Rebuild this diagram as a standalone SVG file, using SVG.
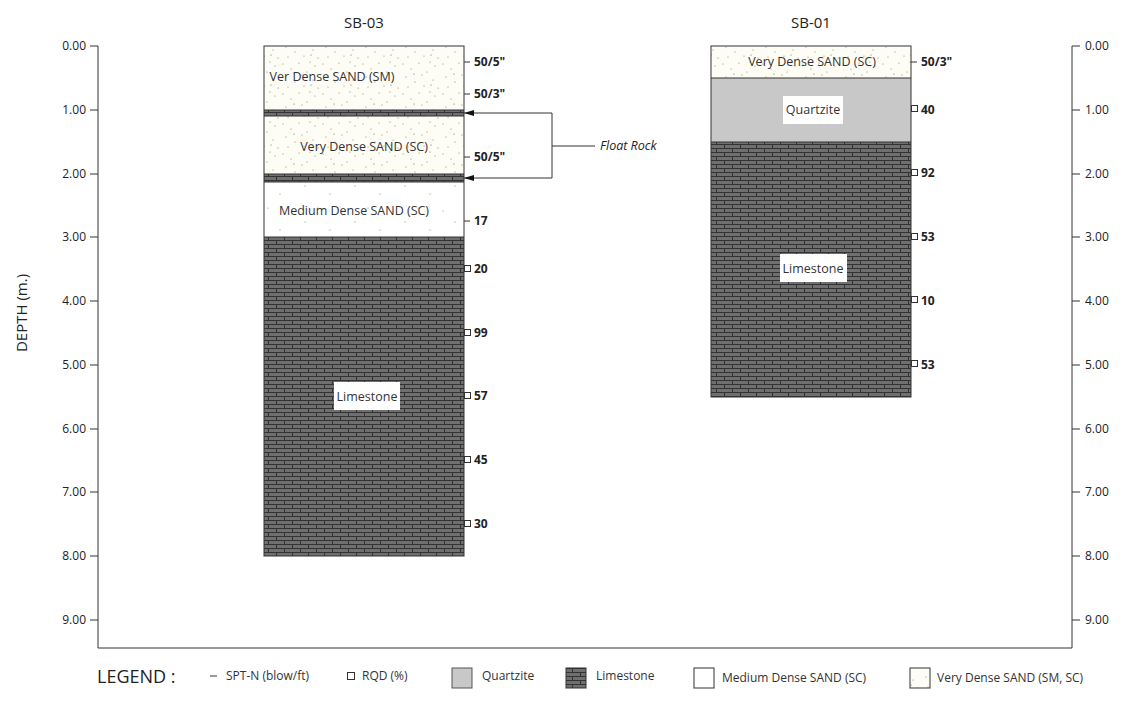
<svg xmlns="http://www.w3.org/2000/svg" width="1138" height="701" viewBox="0 0 1138 701">
<style>
text{font-family:"Open Sans","Noto Sans",sans-serif;fill:#222}
.ax{font-size:12px}
.lbl{font-size:12.5px;fill:#333}
.n{font-size:12px;font-weight:bold}
.t{font-size:15px}
.ln{stroke:#333;stroke-width:1;fill:none}
.lg{font-size:12px;fill:#333}
</style>
<defs>
<pattern id="brick" width="16" height="8" patternUnits="userSpaceOnUse">
<rect width="16" height="8" fill="#6f6f6f"/>
<path d="M0 0.5H16M0 4.5H16M4.5 0.5V4.5M12.5 4.5V8" stroke="#333" stroke-width="1"/>
</pattern>
<pattern id="sand" width="40" height="30" patternUnits="userSpaceOnUse">
<rect width="40" height="30" fill="#fdfcf5"/>
<g fill="#8a8a5a"><circle cx="3" cy="4" r="0.6"/><circle cx="11" cy="9" r="0.6"/><circle cx="19" cy="3" r="0.6"/><circle cx="27" cy="12" r="0.6"/><circle cx="35" cy="6" r="0.6"/><circle cx="6" cy="17" r="0.6"/><circle cx="15" cy="22" r="0.6"/><circle cx="24" cy="26" r="0.6"/><circle cx="33" cy="20" r="0.6"/><circle cx="38" cy="28" r="0.6"/><circle cx="8" cy="27" r="0.6"/><circle cx="22" cy="15" r="0.6"/><circle cx="30" cy="2" r="0.6"/></g>
<g fill="#4a8a3a"><circle cx="14" cy="14" r="0.6"/><circle cx="31" cy="25" r="0.6"/></g>
</pattern>
<pattern id="msand" width="50" height="36" patternUnits="userSpaceOnUse">
<rect width="50" height="36" fill="#fff"/>
<g fill="#8a8a5a"><circle cx="5" cy="6" r="0.6"/><circle cx="30" cy="14" r="0.6"/><circle cx="18" cy="28" r="0.6"/><circle cx="43" cy="31" r="0.6"/></g>
</pattern>
<marker id="ah" viewBox="0 0 10 6" refX="10" refY="3" markerWidth="10" markerHeight="6" orient="auto-start-reverse"><path d="M0 0L10 3L0 6z" fill="#111"/></marker>
</defs>

<g id="axes">
<path class="ln" d="M98 46V648H1072V46" stroke="#555"/>
<g class="ln">
<path d="M90 46H98M90 110H98M90 174H98M90 237H98M90 301H98M90 365H98M90 429H98M90 492H98M90 556H98M90 620H98"/>
<path d="M1072 46H1080M1072 110H1080M1072 174H1080M1072 237H1080M1072 301H1080M1072 365H1080M1072 429H1080M1072 492H1080M1072 556H1080M1072 620H1080"/>
</g>
<g class="ax" text-anchor="end">
<text x="86" y="50">0.00</text><text x="86" y="114">1.00</text><text x="86" y="178">2.00</text><text x="86" y="241">3.00</text><text x="86" y="305">4.00</text><text x="86" y="369">5.00</text><text x="86" y="433">6.00</text><text x="86" y="496">7.00</text><text x="86" y="560">8.00</text><text x="86" y="624">9.00</text>
</g>
<g class="ax">
<text x="1085" y="50">0.00</text><text x="1085" y="114">1.00</text><text x="1085" y="178">2.00</text><text x="1085" y="241">3.00</text><text x="1085" y="305">4.00</text><text x="1085" y="369">5.00</text><text x="1085" y="433">6.00</text><text x="1085" y="496">7.00</text><text x="1085" y="560">8.00</text><text x="1085" y="624">9.00</text>
</g>
<text class="t" transform="translate(27 313) rotate(-90)" text-anchor="middle">DEPTH (m.)</text>
</g>

<g id="SB-03">
<text class="t" x="364" y="28" text-anchor="middle">SB-03</text>
<rect x="264" y="46" width="200" height="64" fill="url(#sand)"/>
<rect x="264" y="110" width="200" height="6" fill="url(#brick)"/>
<rect x="264" y="116" width="200" height="58" fill="url(#sand)"/>
<rect x="264" y="174" width="200" height="8" fill="url(#brick)"/>
<rect x="264" y="182" width="200" height="55" fill="url(#msand)"/>
<rect x="264" y="237" width="200" height="319" fill="url(#brick)"/>
<rect x="264" y="46" width="200" height="510" class="ln" stroke="#222"/>
<path class="ln" d="M264 110H464M264 116H464M264 174H464M264 182H464M264 237H464" stroke-width="1.5"/>
<text class="lbl" x="332" y="81" text-anchor="middle">Ver Dense SAND (SM)</text>
<text class="lbl" x="364" y="151" text-anchor="middle">Very Dense SAND (SC)</text>
<text class="lbl" x="354" y="215" text-anchor="middle">Medium Dense SAND (SC)</text>
<rect x="334" y="382" width="66" height="28" fill="#fff"/>
<text class="lbl" x="367" y="401" text-anchor="middle">Limestone</text>
<path class="ln" d="M464 62H470M464 94H470M464 157H470M464 221H470"/>
<g fill="#fff" stroke="#333"><rect x="464.5" y="265.5" width="6" height="6"/><rect x="464.5" y="329.5" width="6" height="6"/><rect x="464.5" y="392.5" width="6" height="6"/><rect x="464.5" y="456.5" width="6" height="6"/><rect x="464.5" y="520.5" width="6" height="6"/></g>
<g class="n">
<text x="474" y="66">50/5"</text><text x="474" y="98">50/3"</text><text x="474" y="161">50/5"</text><text x="474" y="225">17</text>
<text x="474" y="273">20</text><text x="474" y="337">99</text><text x="474" y="400">57</text><text x="474" y="464">45</text><text x="474" y="528">30</text>
</g>
</g>

<g id="SB-01">
<text class="t" x="811" y="28" text-anchor="middle">SB-01</text>
<rect x="711" y="46" width="200" height="32" fill="url(#sand)"/>
<rect x="711" y="78" width="200" height="64" fill="#c8c8c8"/>
<rect x="711" y="142" width="200" height="255" fill="url(#brick)"/>
<rect x="711" y="46" width="200" height="351" class="ln" stroke="#222"/>
<path class="ln" d="M711 78H911M711 142H911" stroke-width="1.5"/>
<text class="lbl" x="812" y="66" text-anchor="middle">Very Dense SAND (SC)</text>
<rect x="783" y="96" width="60" height="28" fill="#fff"/>
<text class="lbl" x="813" y="114" text-anchor="middle">Quartzite</text>
<rect x="780" y="254" width="67" height="28" fill="#fff"/>
<text class="lbl" x="813" y="273" text-anchor="middle">Limestone</text>
<path class="ln" d="M911 62H917"/>
<g fill="#fff" stroke="#333"><rect x="911.5" y="105.5" width="6" height="6"/><rect x="911.5" y="169.5" width="6" height="6"/><rect x="911.5" y="233.5" width="6" height="6"/><rect x="911.5" y="296.5" width="6" height="6"/><rect x="911.5" y="360.5" width="6" height="6"/></g>
<g class="n">
<text x="921" y="66">50/3"</text><text x="921" y="114">40</text><text x="921" y="177">92</text><text x="921" y="241">53</text><text x="921" y="305">10</text><text x="921" y="369">53</text>
</g>
</g>

<g id="connectors">
<path class="ln" d="M552 113H464" marker-end="url(#ah)"/>
<path class="ln" d="M552 178H464" marker-end="url(#ah)"/>
<path class="ln" d="M552 113V178M552 146H595"/>
</g>
<g id="float-rock"><text x="600" y="150" style="font-size:12.5px;font-style:italic">Float Rock</text></g>

<g id="legend">
<text x="97" y="683" style="font-size:18px">LEGEND :</text>
<path class="ln" d="M210 676H217"/>
<text class="lg" x="226" y="680">SPT-N (blow/ft)</text>
<rect x="347.5" y="672.5" width="7" height="7" fill="#fff" stroke="#333"/>
<text class="lg" x="362" y="680">RQD (%)</text>
<rect x="452" y="668" width="20" height="20" fill="#c8c8c8" stroke="#555"/>
<text class="lg" x="482" y="680">Quartzite</text>
<rect x="566" y="668" width="20" height="20" fill="url(#brick)" stroke="#333"/>
<text class="lg" x="596" y="680">Limestone</text>
<rect x="694" y="668" width="20" height="20" fill="url(#msand)" stroke="#333"/>
<text class="lg" x="722" y="682">Medium Dense SAND (SC)</text>
<rect x="910" y="668" width="20" height="20" fill="url(#sand)" stroke="#333"/>
<text class="lg" x="937" y="682">Very Dense SAND (SM, SC)</text>
</g>
</svg>
